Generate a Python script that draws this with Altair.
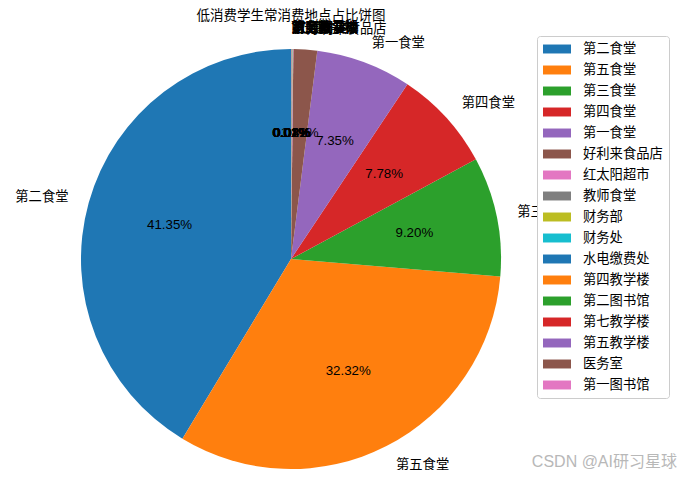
import math
import altair as alt
import pandas as pd

# ---- data ----
categories = ["第二食堂", "第五食堂", "第三食堂", "第四食堂", "第一食堂", "好利来食品店",
              "红太阳超市", "教师食堂", "财务部", "财务处", "水电缴费处", "第四教学楼",
              "第二图书馆", "第七教学楼", "第五教学楼", "医务室", "第一图书馆"]
values = [41.35, 32.32, 9.20, 7.78, 7.35, 1.82,
          0.04, 0.03, 0.02, 0.02, 0.01, 0.01,
          0.01, 0.01, 0.01, 0.01, 0.01]
title_text = "低消费学生常消费地点占比饼图"
watermark = ["CSDN @AI研习星球"]

tab10 = ["#1f77b4", "#ff7f0e", "#2ca02c", "#d62728", "#9467bd",
         "#8c564b", "#e377c2", "#7f7f7f", "#bcbd22", "#17becf"]
colors = [tab10[i % 10] for i in range(len(categories))]

df = pd.DataFrame({"cat": categories, "v": values, "idx": list(range(len(categories)))})

FONT = "Liberation Sans, Noto Sans CJK SC"
TOP = 24
CX, CY, R = 283, 259 - 8 - TOP, 210

theta_scale = alt.Scale(domain=[0, 1], range=[0, 2 * math.pi])

base = alt.Chart(df).transform_joinaggregate(
    total="sum(v)"
).transform_window(
    cum="sum(v)", sort=[alt.SortField("idx", order="descending")], frame=[None, 0]
).transform_calculate(
    start="(datum.cum - datum.v) / datum.total",
    end="datum.cum / datum.total",
    mid="(datum.cum - datum.v / 2) / datum.total",
    pct="format(datum.v / datum.total * 100, '.2f') + '%'",
)

arcs = base.mark_arc(radius=R, stroke=None).encode(
    theta=alt.Theta("start:Q", scale=theta_scale, stack=None),
    theta2="end:Q",
    x=alt.value(CX),
    y=alt.value(CY),
    color=alt.Color(
        "cat:N",
        sort=categories,
        scale=alt.Scale(domain=categories, range=colors),
        legend=alt.Legend(
            title=None,
            orient="none",
            legendX=529,
            legendY=36 - 8 - TOP,
            symbolType="M-1,-0.64H3V0.64H-1Z",
            symbolSize=196,
            symbolStrokeWidth=0,
            symbolOpacity=1,
            labelOffset=26,
            labelFont=FONT,
            labelFontSize=13.3,
            labelColor="#000000",
            rowPadding=7,
            padding=6,
            strokeColor="#cccccc",
            fillColor="#ffffff",
            cornerRadius=3,
            labelLimit=200,
        ),
    ),
)

label_right = base.transform_filter("datum.mid < 0.5").mark_text(
    radius=R * 1.1, align="left", baseline="middle", font=FONT, fontSize=13.3, color="#000000"
).encode(
    theta=alt.Theta("mid:Q", scale=theta_scale, stack=None),
    x=alt.value(CX), y=alt.value(CY), text="cat:N",
)

label_left = base.transform_filter("datum.mid >= 0.5").mark_text(
    radius=R * 1.1, align="right", baseline="middle", font=FONT, fontSize=13.3, color="#000000"
).encode(
    theta=alt.Theta("mid:Q", scale=theta_scale, stack=None),
    x=alt.value(CX), y=alt.value(CY), text="cat:N",
)

pct_text = base.mark_text(
    radius=R * 0.6, align="center", baseline="middle", font=FONT, fontSize=13.3, color="#000000"
).encode(
    theta=alt.Theta("mid:Q", scale=theta_scale, stack=None),
    x=alt.value(CX), y=alt.value(CY), text="pct:N",
)

wm = alt.Chart(pd.DataFrame({"t": watermark})).mark_text(
    align="right", baseline="middle", font=FONT, fontSize=16, color="#b8b8b8"
).encode(text="t:N", x=alt.value(669), y=alt.value(462 - 8 - TOP))

chart = alt.layer(arcs, pct_text, label_right, label_left, wm).properties(
    width=676,
    height=462 - TOP,
    padding={"left": 0, "top": TOP, "right": 0, "bottom": 0},
    autosize=alt.AutoSizeParams(type="none"),
    title=alt.Title(title_text, font=FONT, fontSize=13.5, fontWeight="normal",
                    color="#000000", anchor="middle", dx=-55, offset=-1),
).configure_view(stroke=None)

chart.save("out.html", embed_options={"renderer": "svg", "actions": False})
